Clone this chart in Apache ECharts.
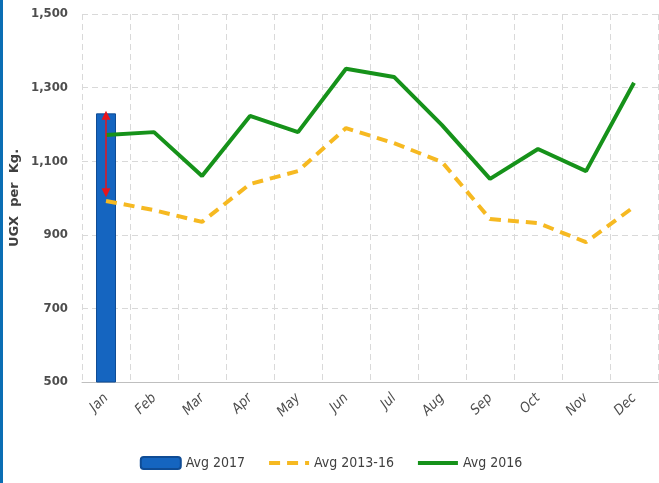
<!DOCTYPE html>
<html>
<head>
<meta charset="utf-8">
<script src="https://cdn.jsdelivr.net/npm/echarts@6/dist/echarts.min.js"></script>
<style>
  html, body { margin: 0; padding: 0; background: #fff; }
  #main { width: 659px; height: 483px; border-left: 3px solid #0a6eb4; box-sizing: border-box; }
</style>
</head>
<body>
<div id="main"></div>
<script>
var months = ['Jan', 'Feb', 'Mar', 'Apr', 'May', 'Jun', 'Jul', 'Aug', 'Sep', 'Oct', 'Nov', 'Dec'];
var avg2017 = [1230];
var avg1316 = [992, 967, 935, 1038, 1073, 1190, 1149, 1098, 943, 932, 880, 976];
var avg2016 = [1171, 1179, 1060, 1223, 1179, 1351, 1329, 1198, 1052, 1133, 1073, 1313];

var font = "'DejaVu Sans Condensed', 'Liberation Sans Narrow', sans-serif";

var chart = echarts.init(document.getElementById('main'));

var option = {
    animation: false,
    grid: {
        left: 79,
        right: 1,
        top: 14,
        bottom: 101,
        outerBoundsMode: 'none'
    },
    legend: {
        bottom: 8,
        left: 'center',
        itemWidth: 40,
        itemHeight: 12,
        itemGap: 22,
        textStyle: { fontFamily: font, fontSize: 14, color: '#404040' },
        data: [
            { name: 'Avg 2017' },
            { name: 'Avg 2013-16', itemStyle: { opacity: 0 }, lineStyle: { width: 4 } },
            { name: 'Avg 2016', itemStyle: { opacity: 0 }, lineStyle: { width: 4 } }
        ]
    },
    xAxis: {
        type: 'category',
        data: months,
        axisLine: { lineStyle: { color: '#bfbfbf' } },
        axisTick: { show: false },
        splitLine: {
            show: true,
            lineStyle: { color: '#d9d9d9', type: [6, 4] }
        },
        axisLabel: {
            rotate: 45,
            margin: 14,
            color: '#4d4d4d',
            fontFamily: font,
            fontSize: 14,
            fontStyle: 'italic'
        }
    },
    yAxis: {
        type: 'value',
        min: 500,
        max: 1500,
        interval: 200,
        name: 'UGX  per  Kg.',
        nameLocation: 'middle',
        nameGap: 61,
        nameMoveOverlap: false,
        nameTextStyle: { color: '#404040', fontWeight: 'bold', fontSize: 13, fontFamily: 'DejaVu Sans' },
        axisLine: { show: false },
        axisTick: { show: false },
        axisLabel: {
            color: '#4d4d4d',
            fontWeight: 'bold',
            fontSize: 13,
            fontFamily: font,
            margin: 14,
            formatter: function (v) {
                return v.toLocaleString('en-US');
            }
        },
        splitLine: {
            lineStyle: { color: '#d9d9d9', type: [6, 4] }
        }
    },
    series: [
        {
            name: 'Avg 2017',
            type: 'bar',
            barWidth: 20,
            itemStyle: { color: '#1565c0', borderColor: '#0f4c95', borderWidth: 1 },
            data: avg2017,
            markLine: {
                silent: true,
                symbol: ['triangle', 'triangle'],
                symbolSize: [9, 9],
                label: { show: false },
                lineStyle: { color: '#e8141c', width: 1.5, type: 'solid' },
                data: [
                    [
                        { coord: ['Jan', avg2017[0] - 5] },
                        { coord: ['Jan', avg1316[0] + 22] }
                    ]
                ]
            },
            z: 1
        },
        {
            name: 'Avg 2013-16',
            type: 'line',
            data: avg1316,
            symbol: 'none',
            lineStyle: { color: '#f6b921', width: 4, type: [11, 7] },
            itemStyle: { color: '#f6b921' },
            z: 3
        },
        {
            name: 'Avg 2016',
            type: 'line',
            data: avg2016,
            symbol: 'none',
            lineStyle: { color: '#16921a', width: 4 },
            itemStyle: { color: '#16921a' },
            z: 4
        }
    ]
};

chart.setOption(option);
</script>
</body>
</html>
